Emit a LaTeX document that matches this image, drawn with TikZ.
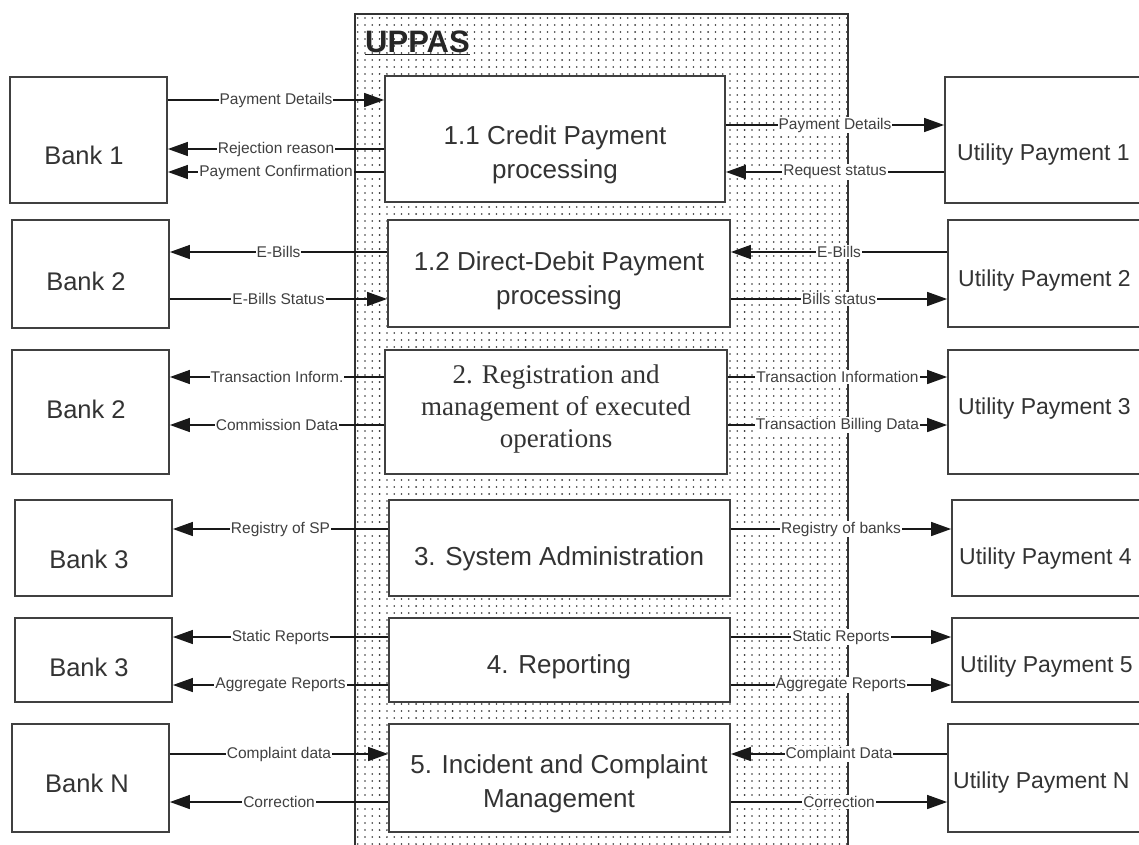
\documentclass[tikz,border=0pt]{standalone}
\usepackage{fontspec}
\setmainfont{Liberation Sans}
\newfontfamily\timesfam{Liberation Serif}
\usetikzlibrary{arrows.meta,patterns.meta}

% sparse dot grid used to shade the system boundary
\tikzdeclarepattern{
  name=gridDots,
  type=uncolored,
  bottom left={(-1.5pt,-1.5pt)},
  top right={(6pt,6pt)},
  tile size={(7.3pt,7pt)},
  code={\pgfpathcircle{\pgfpointorigin}{0.9pt}\pgfusepath{fill}}
}

\begin{document}
\begin{tikzpicture}[x=1pt,y=-1pt,
  box/.style={draw=black!75, line width=1.8pt, fill=white, inner sep=0pt},
  bigtext/.style={text=black!80, align=center, inner sep=0pt,
                  font=\fontsize{26}{34}\selectfont},
  sidetext/.style={text=black!80, inner sep=0pt,
                   font=\fontsize{25.5}{30}\selectfont},
  utiltext/.style={text=black!80, inner sep=0pt, anchor=west,
                   font=\fontsize{23}{28}\selectfont},
  flow/.style={line width=1.4pt, draw=black!90,
               -{Triangle[length=20pt,width=14pt]}},
  tag/.style={fill=white, inner sep=1pt, text=black!75,
              font=\fontsize{15.5}{18}\selectfont},
]
\useasboundingbox (0,0) rectangle (1139,844);
\clip (0,0) rectangle (1139,844);

% system boundary
\node[draw=black!80, line width=1.6pt, preaction={fill=white},
      pattern=gridDots, pattern color=black!80,
      minimum width=493pt, minimum height=860pt, inner sep=0pt]
      (uppas) at (601.5,444) {};
\node[anchor=base west, inner sep=0pt, text=black!85,
      font=\bfseries\fontsize{31}{31}\selectfont] (title) at (365,52)
      {\underline{UPPAS}};

% banks
\node[box, minimum width=157pt, minimum height=126pt] (b1) at (88.5,140) {};
\node[box, minimum width=157pt, minimum height=108pt] (b2) at (90.5,274) {};
\node[box, minimum width=157pt, minimum height=124pt] (b3) at (90.5,412) {};
\node[box, minimum width=157pt, minimum height=96pt]  (b4) at (93.5,548) {};
\node[box, minimum width=157pt, minimum height=84pt]  (b5) at (93.5,660) {};
\node[box, minimum width=157pt, minimum height=108pt] (b6) at (90.5,778) {};
\node[sidetext] (b1t) at (84,155) {Bank 1};
\node[sidetext] (b2t) at (86,281) {Bank 2};
\node[sidetext] (b3t) at (86,409) {Bank 2};
\node[sidetext] (b4t) at (89,559) {Bank 3};
\node[sidetext] (b5t) at (89,667) {Bank 3};
\node[sidetext] (b6t) at (87,783) {Bank N};

% processes
\node[box, minimum width=340pt, minimum height=126pt] (p1) at (555,139) {};
\node[box, minimum width=342pt, minimum height=107pt] (p2) at (559,273.5) {};
\node[box, minimum width=342pt, minimum height=124pt] (p3) at (556,412) {};
\node[box, minimum width=341pt, minimum height=96pt]  (p4) at (559.5,548) {};
\node[box, minimum width=341pt, minimum height=84pt]  (p5) at (559.5,660) {};
\node[box, minimum width=341pt, minimum height=108pt] (p6) at (559.5,778) {};
\node[bigtext] (p1t) at (555,155) {1.1 Credit Payment\\processing};
\node[bigtext] (p2t) at (559,281) {1.2 Direct-Debit Payment\\processing};
\node[bigtext, font=\timesfam\fontsize{27}{32}\selectfont] (p3t) at (556,409)
      {2. Registration and\\management of executed\\operations};
\node[bigtext] (p4t) at (559,559) {3. System Administration};
\node[bigtext] (p5t) at (559,667) {4. Reporting};
\node[bigtext] (p6t) at (559,784) {5. Incident and Complaint\\Management};

% utility payment systems
\node[box, minimum width=205pt, minimum height=126pt] (u1) at (1047.5,140) {};
\node[box, minimum width=205pt, minimum height=107pt] (u2) at (1050.5,273.5) {};
\node[box, minimum width=205pt, minimum height=124pt] (u3) at (1050.5,412) {};
\node[box, minimum width=205pt, minimum height=96pt]  (u4) at (1054.5,548) {};
\node[box, minimum width=205pt, minimum height=84pt]  (u5) at (1054.5,660) {};
\node[box, minimum width=205pt, minimum height=108pt] (u6) at (1050.5,778) {};
\node[utiltext] (u1t) at (957,155) {Utility Payment 1};
\node[utiltext] (u2t) at (958,281) {Utility Payment 2};
\node[utiltext] (u3t) at (958,409) {Utility Payment 3};
\node[utiltext] (u4t) at (959,559) {Utility Payment 4};
\node[utiltext] (u5t) at (960,667) {Utility Payment 5};
\node[utiltext] (u6t) at (953,783) {Utility Payment N};

% bank side flows
\draw[flow] (b1.east |- 0,100) -- node[tag] {Payment Details} (p1.west |- 0,100);
\draw[flow] (p1.west |- 0,149) -- node[tag] {Rejection reason} (b1.east |- 0,149);
\draw[flow] (p1.west |- 0,172) -- node[tag] {Payment Confirmation} (b1.east |- 0,172);
\draw[flow] (p2.west |- 0,252) -- node[tag] {E-Bills} (b2.east |- 0,252);
\draw[flow] (b2.east |- 0,299) -- node[tag] {E-Bills Status} (p2.west |- 0,299);
\draw[flow] (p3.west |- 0,377) -- node[tag] {Transaction Inform.} (b3.east |- 0,377);
\draw[flow] (p3.west |- 0,425) -- node[tag] {Commission Data} (b3.east |- 0,425);
\draw[flow] (p4.west |- 0,529) -- node[tag] {Registry of SP} (b4.east |- 0,529);
\draw[flow] (p5.west |- 0,637) -- node[tag] {Static Reports} (b5.east |- 0,637);
\draw[flow] (p5.west |- 0,685) -- node[tag] {Aggregate Reports} (b5.east |- 0,685);
\draw[flow] (b6.east |- 0,754) -- node[tag] {Complaint data} (p6.west |- 0,754);
\draw[flow] (p6.west |- 0,802) -- node[tag] {Correction} (b6.east |- 0,802);

% utility side flows
\draw[flow] (p1.east |- 0,125) -- node[tag] {Payment Details} (u1.west |- 0,125);
\draw[flow] (u1.west |- 0,172) -- node[tag] {Request status} (p1.east |- 0,172);
\draw[flow] (u2.west |- 0,252) -- node[tag] {E-Bills} (p2.east |- 0,252);
\draw[flow] (p2.east |- 0,299) -- node[tag] {Bills status} (u2.west |- 0,299);
\draw[flow] (p3.east |- 0,377) -- node[tag] {Transaction Information} (u3.west |- 0,377);
\draw[flow] (p3.east |- 0,425) -- node[tag] {Transaction Billing Data} (u3.west |- 0,425);
\draw[flow] (p4.east |- 0,529) -- node[tag] {Registry of banks} (u4.west |- 0,529);
\draw[flow] (p5.east |- 0,637) -- node[tag] {Static Reports} (u5.west |- 0,637);
\draw[flow] (p5.east |- 0,685) -- node[tag] {Aggregate Reports} (u5.west |- 0,685);
\draw[flow] (u6.west |- 0,754) -- node[tag] {Complaint Data} (p6.east |- 0,754);
\draw[flow] (p6.east |- 0,802) -- node[tag] {Correction} (u6.west |- 0,802);
\end{tikzpicture}
\end{document}
